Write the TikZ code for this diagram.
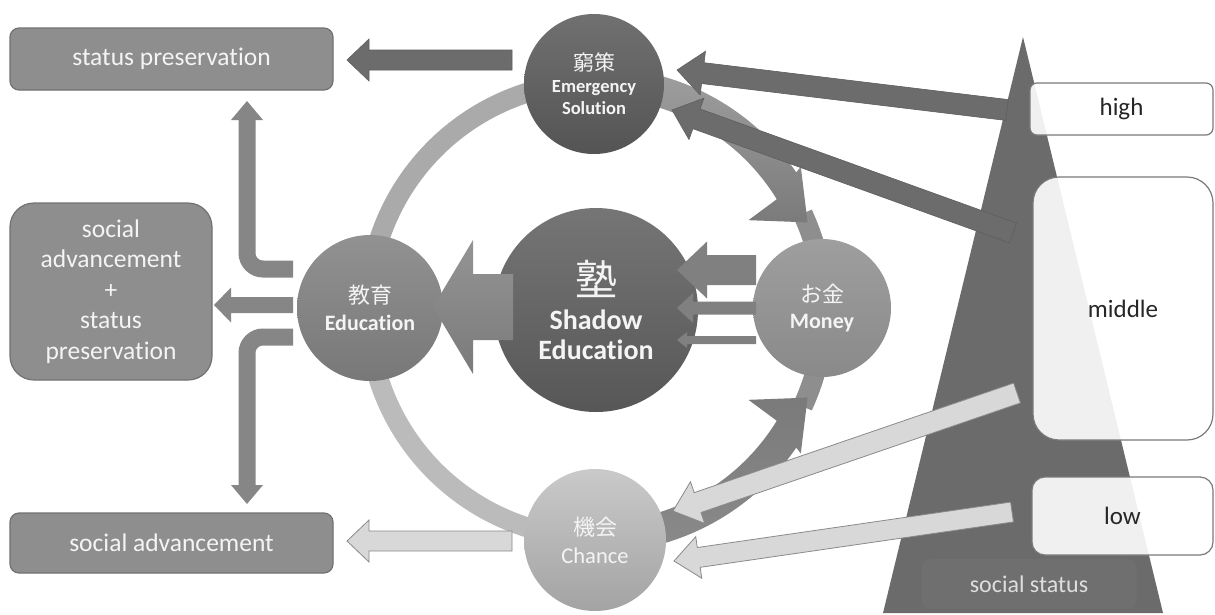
\documentclass[tikz,border=0pt]{standalone}
\usepackage{fontspec}
\setmainfont{Carlito}[Ligatures=NoCommon]
\newfontfamily\cjk{Noto Sans CJK JP}
\usetikzlibrary{calc}
\definecolor{bgbox}{HTML}{8E8E8E}
\definecolor{bgboxline}{HTML}{727272}
\definecolor{darkarrow}{HTML}{6C6C6C}
\definecolor{darkline}{HTML}{5E5E5E}
\definecolor{lightarrow}{HTML}{D8D8D8}
\definecolor{lightline}{HTML}{8A8A8A}
\definecolor{midarrow}{HTML}{868686}
\definecolor{pyr}{HTML}{6B6B6B}
\definecolor{statusbg}{HTML}{6F6F6F}
\definecolor{txtw}{HTML}{F4F4F4}
\definecolor{ringA}{HTML}{AAAAAA}
\definecolor{ringB}{HTML}{BBBBBB}
\definecolor{ringC}{HTML}{8E8E8E}
\definecolor{rboxline}{HTML}{7A7A7A}
\newcommand{\myblockarrow}[6]{%
  \coordinate (bah) at ($(#3)!#6!(#2)$);
  \path[#1] ($(#2)!#4!90:(#3)$) -- ($(bah)!#4!90:(#3)$) -- ($(bah)!#5!90:(#3)$) -- (#3) -- ($(bah)!#5!-90:(#3)$) -- ($(bah)!#4!-90:(#3)$) -- ($(#2)!#4!-90:(#3)$) -- cycle;}
\begin{document}
\begin{tikzpicture}[x=1pt,y=-1pt,
  lbox/.style={draw=bgboxline, line width=1.2pt, fill=bgbox, text=txtw, inner sep=0pt, font=\fontsize{25.5}{30.5}\selectfont},
  rbox/.style={draw=rboxline, line width=1.2pt, fill=white, fill opacity=0.9, text opacity=1, text=black!85, inner sep=0pt, font=\fontsize{25}{30}\selectfont},
  circ/.style={circle, inner sep=0pt, text=txtw, align=center},
  darkA/.style={fill=darkarrow, draw=darkline, line width=0.6pt},
  lightA/.style={fill=lightarrow, draw=lightline, line width=0.8pt},
  midA/.style={fill=midarrow}
]
\useasboundingbox (0,0) rectangle (1215,614);
\fill[white] (0,0) rectangle (1215,614);

% ring
\draw[ringA, line width=20pt] plot[domain=180:270, samples=60] ({596+228*cos(\x)},{310+228*sin(\x)});
\draw[ringB, line width=20pt] plot[domain=90:180, samples=60] ({596+228*cos(\x)},{310+228*sin(\x)});
\draw[ringC, line width=20pt] plot[domain=-25:25, samples=30] ({596+228*cos(\x)},{310+228*sin(\x)});

% curved arrows on the ring
\path[top color=black!38, bottom color=black!52]
  plot[domain=-80:-34.5, samples=40] ({596+243*cos(\x)},{310+243*sin(\x)})
  -- ({596+250*cos(-35)},{310+250*sin(-35)})
  -- ({596+229*cos(-22.5)},{310+229*sin(-22.5)})
  -- ({596+177*cos(-30.5)},{310+177*sin(-30.5)})
  -- plot[domain=-31.5:-80, samples=40] ({596+212*cos(\x)},{310+212*sin(\x)}) -- cycle;
\path[top color=black!52, bottom color=black!46]
  plot[domain=80:34.5, samples=40] ({596+243*cos(\x)},{310+243*sin(\x)})
  -- ({596+250*cos(35)},{310+250*sin(35)})
  -- ({596+229*cos(22.5)},{310+229*sin(22.5)})
  -- ({596+177*cos(30.5)},{310+177*sin(30.5)})
  -- plot[domain=31.5:80, samples=40] ({596+212*cos(\x)},{310+212*sin(\x)}) -- cycle;

% circles
\node[circ, minimum size=140pt, top color=black!56, bottom color=black!67, font=\fontsize{18.5}{22}\selectfont] (emg) at (594,84)
  {{\cjk\fontsize{21}{23}\selectfont 窮策}\\\textbf{Emergency}\\\textbf{Solution}};
\node[circ, minimum size=204pt, top color=black!54, bottom color=black!66, font=\fontsize{28}{30}\selectfont] (shadow) at (596,310)
  {{\cjk\fontsize{42}{46}\selectfont 塾}\\[4pt]\textbf{Shadow}\\\textbf{Education}};
\node[circ, minimum size=146pt, top color=black!43, bottom color=black!53, font=\fontsize{22}{27}\selectfont] (edu) at (370,308)
  {{\cjk\fontsize{22}{24}\selectfont 教育}\\\textbf{Education}};
\node[circ, minimum size=138pt, top color=black!38, bottom color=black!46, font=\fontsize{22}{26}\selectfont] (money) at (822,308)
  {{\cjk\fontsize{22}{24}\selectfont お金}\\\textbf{Money}};
\node[circ, minimum size=142pt, top color=black!21, bottom color=black!36, font=\fontsize{22.5}{28}\selectfont] (chance) at (595,540)
  {{\cjk\fontsize{22}{24}\selectfont 機会}\\Chance};

% money -> shadow education
\coordinate (mo1) at (756,270); \coordinate (sh1) at (677,270);
\coordinate (mo2) at (756,308); \coordinate (sh2) at (677,308);
\coordinate (mo3) at (756,340); \coordinate (sh3) at (677,340);
\myblockarrow{fill=black!50}{mo1}{sh1}{15pt}{28.5pt}{30pt}
\myblockarrow{fill=black!50}{mo2}{sh2}{6.5pt}{15pt}{16pt}
\myblockarrow{fill=black!50}{mo3}{sh3}{4pt}{8pt}{10pt}

% shadow education -> education
\coordinate (shW) at (513,307); \coordinate (eduE) at (433,307);
\myblockarrow{top color=black!42, bottom color=black!52}{shW}{eduE}{33pt}{67pt}{40pt}

% left boxes
\node[lbox, minimum width=323pt, minimum height=62pt, rounded corners=9pt] (sp) at (171.5,59) {status preservation};
\node[lbox, minimum width=202pt, minimum height=177pt, rounded corners=24pt, align=center] (spsa) at (111,291.5)
  {social\\advancement\\+\\status\\preservation};
\node[lbox, minimum width=323pt, minimum height=60pt, rounded corners=9pt] (sa) at (171.5,543) {social advancement};

% arrows to left boxes
\coordinate (emgW) at (512,60); \coordinate (spE) at (347,60);
\myblockarrow{darkA}{emgW}{spE}{10pt}{21pt}{22pt}
\coordinate (chW) at (512,541); \coordinate (saE) at (347,541);
\myblockarrow{lightA}{chW}{saE}{10pt}{21pt}{22pt}
\coordinate (eduW) at (293,305); \coordinate (spsaE) at (214,305);
\myblockarrow{midA}{eduW}{spsaE}{8pt}{17.5pt}{17pt}
\coordinate (eduNW) at (293,269); \coordinate (spS) at (247,101);
\draw[midarrow, line width=17pt, rounded corners=16pt] (eduNW) -- (247,269) -- (247,117);
\fill[midarrow] (231,120) -- (spS) -- (263,120) -- cycle;
\coordinate (eduSW) at (293,337); \coordinate (saN) at (247,504);
\draw[midarrow, line width=17pt, rounded corners=16pt] (eduSW) -- (247,337) -- (247,488);
\fill[midarrow] (231,485) -- (saN) -- (263,485) -- cycle;

% pyramid
\fill[pyr] (1023,37) -- (1163,613) -- (883,613) -- cycle;
\node[fill=statusbg, rounded corners=10pt, minimum width=215pt, minimum height=50pt, inner sep=0pt, text=black!13, font=\fontsize{24}{28}\selectfont] (status) at (1029,584) {social status};

% arrows from social strata
\coordinate (hiW) at (1007,110); \coordinate (emgE1) at (677,70);
\myblockarrow{darkA}{hiW}{emgE1}{10.5pt}{22pt}{26pt}
\coordinate (midW1) at (1013,233); \coordinate (emgE2) at (672,110);
\myblockarrow{darkA}{midW1}{emgE2}{10.5pt}{22pt}{26pt}
\coordinate (midW2) at (1017,393); \coordinate (chE1) at (673,511);
\myblockarrow{lightA}{midW2}{chE1}{10.5pt}{22pt}{26pt}
\coordinate (lowW) at (1012,512); \coordinate (chE2) at (674,561);
\myblockarrow{lightA}{lowW}{chE2}{10pt}{21pt}{25pt}

% strata boxes
\node[rbox, minimum width=183pt, minimum height=52pt, rounded corners=7pt] (high) at (1121.5,109) {high};
\node[rbox, minimum width=180pt, minimum height=263pt, rounded corners=26pt] (middle) at (1123,308.5) {middle};
\node[rbox, minimum width=181pt, minimum height=78pt, rounded corners=13pt] (low) at (1122.5,516) {low};
\end{tikzpicture}
\end{document}
